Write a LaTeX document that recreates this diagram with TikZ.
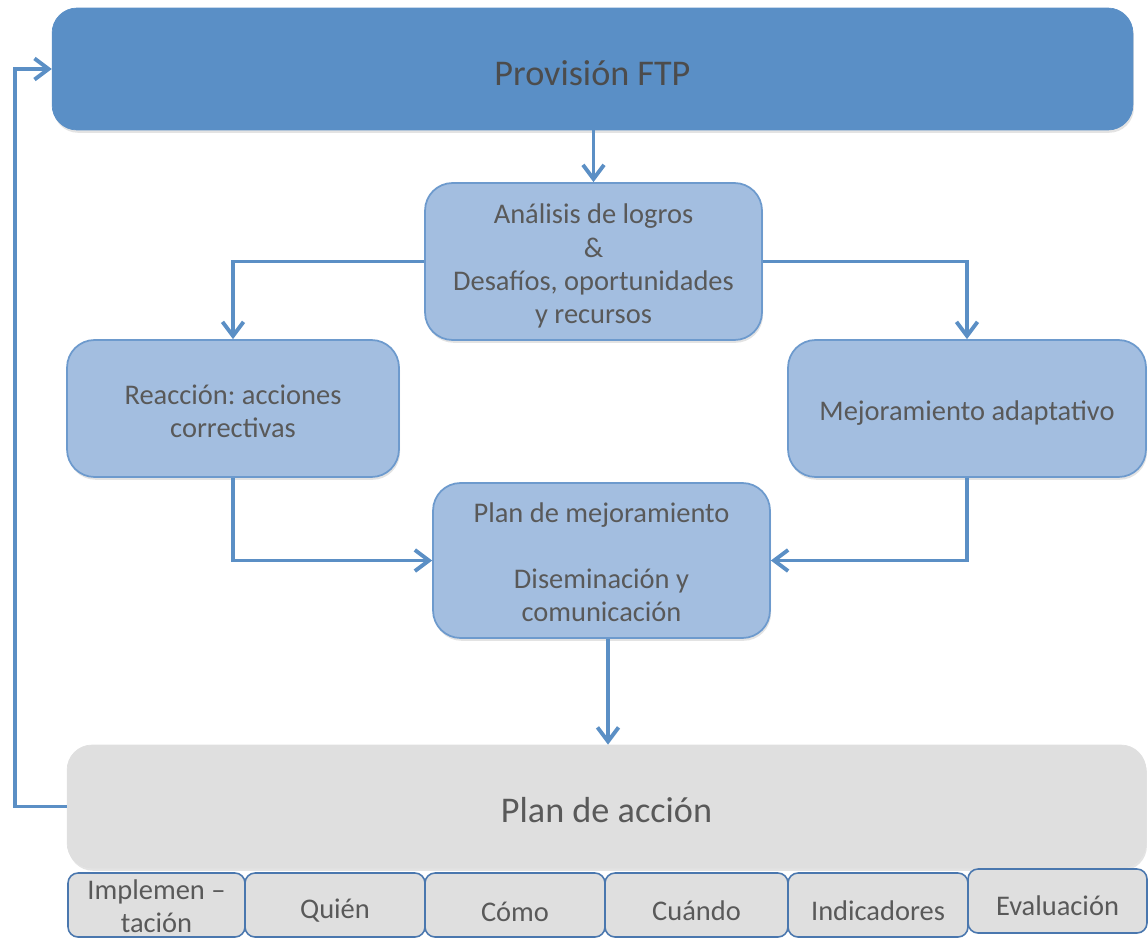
\documentclass[tikz,border=0pt]{standalone}
\usepackage{fontspec}
\setmainfont{Carlito}
\frenchspacing
\usetikzlibrary{arrows.meta,shadows}

\definecolor{topblue}{HTML}{5A8FC6}
\definecolor{boxblue}{HTML}{A3BEE0}
\definecolor{boxline}{HTML}{6D9ACD}
\definecolor{planfill}{HTML}{DFDFDF}
\definecolor{cellline}{HTML}{4A77AE}
\definecolor{txt}{HTML}{595959}
\definecolor{toptxt}{HTML}{4C4C4C}
\definecolor{linkblue}{HTML}{5B8FC5}

\tikzset{
  softshadow/.style={drop shadow={opacity=0.22, shadow xshift=0.6pt, shadow yshift=-1.6pt}},
  % text placed at the centre of a box, lowered a little
  boxtext/.style={align=center, text=txt, inner sep=0pt, yshift=#1},
  boxtext/.default=-2.5pt,
  bigfont/.style={font=\fontsize{20.6}{24}\selectfont},
  midfont/.style={font=\fontsize{16.2}{18.9}\selectfont},
  cellfont/.style={font=\fontsize{16.2}{19}\selectfont},
  headbox/.style={fill=topblue, draw=topblue, rounded corners=0.5cm, softshadow,
    minimum width=21.62cm, minimum height=2.44cm},
  stepbox/.style={fill=boxblue, draw=boxline, line width=1pt, rounded corners=0.55cm, softshadow},
  planbox/.style={fill=planfill, draw=planfill, rounded corners=0.5cm, softshadow,
    minimum width=21.58cm, minimum height=2.46cm},
  cellbox/.style={fill=planfill, draw=cellline, line width=0.9pt, rounded corners=0.2cm,
    minimum height=1.28cm},
  conn/.style={draw=linkblue, line width=2.2pt,
    -{Straight Barb[length=8pt, width=12pt, line width=2.2pt]}},
}

\begin{document}
\begin{tikzpicture}[x=0.02cm, y=-0.02cm]
  \useasboundingbox (0,0) rectangle (1148,939);

  % main cycle boxes
  \node[headbox, label={[boxtext=-2.3pt, bigfont, text=toptxt]center:{Provisión FTP}}] (top) at (592.5,69) {};
  \node[stepbox, minimum width=6.74cm, minimum height=3.14cm,
    label={[boxtext=-2.6pt, midfont]center:{Análisis de logros\\\&\\Desafíos, oportunidades\\y recursos}}]
    (ana) at (593.5,261.5) {};
  \node[stepbox, minimum width=6.64cm, minimum height=2.74cm,
    label={[boxtext=-1.7pt, midfont]center:{Reacción: acciones\\correctivas}}]
    (rea) at (233,408.5) {};
  \node[stepbox, minimum width=7.16cm, minimum height=2.74cm,
    label={[boxtext=-2.8pt, midfont]center:{Mejoramiento adaptativo}}]
    (mej) at (967,408.5) {};
  \node[stepbox, minimum width=6.74cm, minimum height=3.1cm,
    label={[boxtext=-1pt, midfont]center:{Plan de mejoramiento\\[18.9pt]Diseminación y\\comunicación}}]
    (pm) at (601.5,560.5) {};
  \node[planbox, label={[boxtext=-2.3pt, bigfont]center:{Plan de acción}}] (pa) at (606.5,806.5) {};

  % components of the action plan
  \node[cellbox, minimum width=3.54cm, label={[boxtext=-0.8pt, cellfont]center:{Implemen –\\tación}}] (c1) at (156.5,905) {};
  \node[cellbox, minimum width=3.60cm, label={[boxtext=-3.4pt, cellfont]center:{Quién}}] (c2) at (335,905) {};
  \node[cellbox, minimum width=3.60cm, label={[boxtext=-3.8pt, cellfont]center:{Cómo}}] (c3) at (515,905) {};
  \node[cellbox, minimum width=3.66cm, label={[boxtext=-3.4pt, cellfont]center:{Cuándo}}] (c4) at (696.5,905) {};
  \node[cellbox, minimum width=3.60cm, label={[boxtext=-3.4pt, cellfont]center:{Indicadores}}] (c5) at (878,905) {};
  \node[cellbox, minimum width=3.58cm, label={[boxtext=-2.6pt, cellfont]center:{Evaluación}}] (c6) at (1057.5,901) {};

  % connectors
  \coordinate (loop) at (15,806.5);
  \draw[conn] (ana.north |- top.south) -- (ana.north);
  \draw[conn] (ana.west) -| (rea.north);
  \draw[conn] (ana.east) -| (mej.north);
  \draw[conn] (rea.south) |- (pm.west);
  \draw[conn] (mej.south) |- (pm.east);
  \draw[conn] ([xshift=0.13cm]pm.south) -- ([xshift=0.13cm]pm.south |- pa.north);
  \draw[conn] (pa.west) -- (loop) |- (top.west);
\end{tikzpicture}
\end{document}
